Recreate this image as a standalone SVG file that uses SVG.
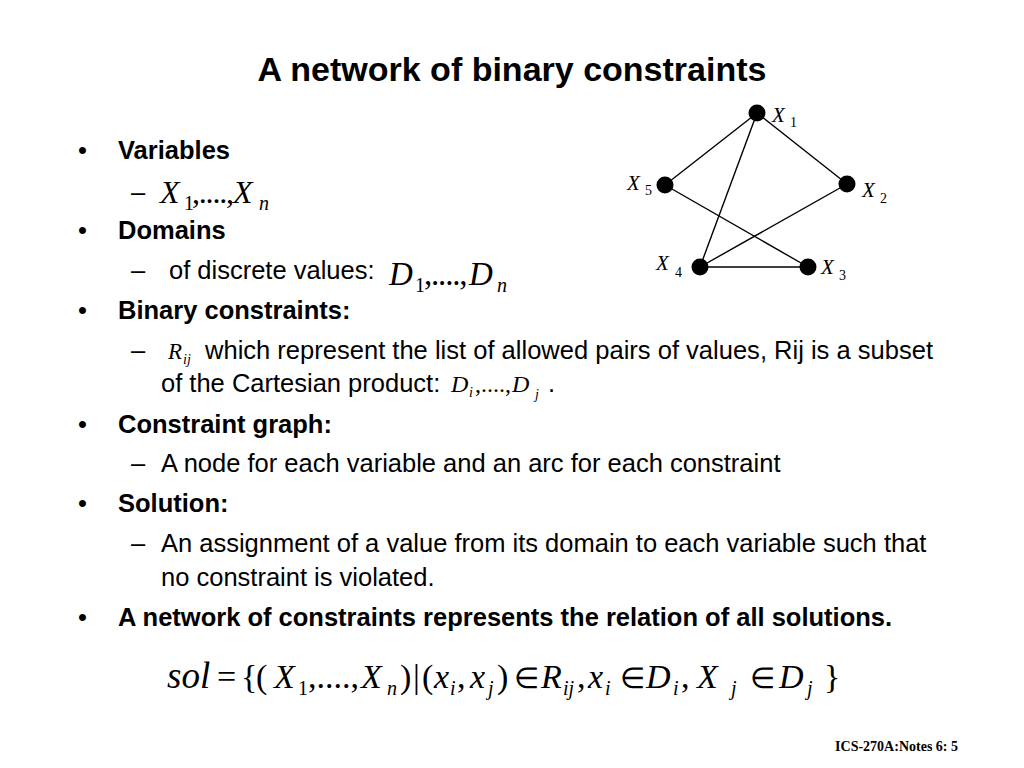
<svg xmlns="http://www.w3.org/2000/svg" width="1024" height="768" viewBox="0 0 1024 768">
<style>
.t{font-family:"Liberation Sans",Arial,sans-serif;font-size:25.5px;fill:#000}
.b{font-weight:bold}
.m{font-family:"Liberation Serif","Times New Roman",serif;fill:#000}
.i{font-style:italic}
.s{font-size:20px}
.p{letter-spacing:-1.2px}
.e{font-size:29px}
.node{fill:#000}
.edge{stroke:#000;stroke-width:1.4;fill:none}
.lbl{font-size:21px}
.lsub{font-size:14px}
</style>
<rect width="1024" height="768" fill="#fff"/>
<text x="512" y="81" text-anchor="middle" class="t b" style="font-size:34px">A network of binary constraints</text>

<g id="bullets" class="t">
<text x="78" y="159">•</text>
<text x="118" y="159" class="b">Variables</text>
<text x="131" y="201">–</text>
<text x="78" y="239">•</text>
<text x="118" y="239" class="b">Domains</text>
<text x="131" y="279">–</text>
<text x="169" y="279">of discrete values:</text>
<text x="78" y="319">•</text>
<text x="118" y="319" class="b">Binary constraints:</text>
<text x="131" y="359">–</text>
<text x="205" y="359" textLength="728" lengthAdjust="spacingAndGlyphs">which represent the list of allowed pairs of values, Rij is a subset</text>
<text x="161" y="392">of the Cartesian product:</text>
<text x="548" y="392">.</text>
<text x="78" y="433">•</text>
<text x="118" y="433" class="b">Constraint graph:</text>
<text x="131" y="472">–</text>
<text x="161" y="472">A node for each variable and an arc for each constraint</text>
<text x="78" y="512">•</text>
<text x="118" y="512" class="b">Solution:</text>
<text x="131" y="552">–</text>
<text x="161" y="552">An assignment of a value from its domain to each variable such that</text>
<text x="161" y="586">no constraint is violated.</text>
<text x="78" y="626">•</text>
<text x="118" y="626" class="b">A network of constraints represents the relation of all solutions.</text>
</g>

<g id="math" class="m">
<g style="font-size:32px">
<text x="160" y="203" class="i">X</text><text x="184" y="210" class="s">1</text><text x="192" y="203" class="p">,....,</text><text x="233" y="203" class="i">X</text><text x="259" y="210" class="s i">n</text>
</g>
<g style="font-size:33px">
<text x="389" y="285" class="i">D</text><text x="415" y="292" class="s">1</text><text x="424" y="285" class="p">,....,</text><text x="469" y="285" class="i">D</text><text x="497" y="292" class="s i">n</text>
</g>
<text x="168" y="359" class="i" style="font-size:23px">R</text><text x="183" y="364" class="i" style="font-size:14px">ij</text>
<g style="font-size:24px">
<text x="451" y="392" class="i">D</text><text x="469" y="397" class="i" style="font-size:14px">i</text><text x="475" y="392">,....,</text><text x="512" y="392" class="i">D</text><text x="535" y="399" class="i" style="font-size:14px">j</text>
</g>
<g style="font-size:34px">
<text x="167" y="688" class="i" style="font-size:37px">sol</text>
<text x="217" y="688">=</text>
<text x="241" y="688">{</text>
<text x="256" y="688">(</text>
<text x="274" y="688" class="i">X</text>
<text x="298" y="695" class="s">1</text>
<text x="308" y="688">,....,</text>
<text x="361" y="688" class="i">X</text>
<text x="387" y="695" class="s i">n</text>
<text x="400" y="688">)</text>
<text x="413" y="688">|</text>
<text x="422" y="688">(</text>
<text x="434" y="688" class="i">x</text>
<text x="450" y="695" class="s i">i</text>
<text x="457" y="688">,</text>
<text x="470" y="688" class="i">x</text>
<text x="488" y="695" class="s i">j</text>
<text x="497" y="688">)</text>
<text x="514" y="688" class="e">∈</text>
<text x="541" y="688" class="i">R</text>
<text x="563" y="695" class="s i">ij</text>
<text x="577" y="688">,</text>
<text x="588" y="688" class="i">x</text>
<text x="605" y="695" class="s i">i</text>
<text x="620" y="688" class="e">∈</text>
<text x="646" y="688" class="i">D</text>
<text x="673" y="695" class="s i">i</text>
<text x="681" y="688">,</text>
<text x="697" y="688" class="i">X</text>
<text x="731" y="695" class="s i">j</text>
<text x="750" y="688" class="e">∈</text>
<text x="779" y="688" class="i">D</text>
<text x="807" y="695" class="s i">j</text>
<text x="824" y="688">}</text>
</g>
<text x="958" y="751" text-anchor="end" class="b" style="font-size:14px">ICS-270A:Notes 6: 5</text>
</g>

<g id="connectors">
<line class="edge" x1="757" y1="113" x2="665" y2="185"/>
<line class="edge" x1="757" y1="113" x2="847" y2="184"/>
<line class="edge" x1="757" y1="113" x2="700" y2="267"/>
<line class="edge" x1="665" y1="185" x2="808" y2="267"/>
<line class="edge" x1="847" y1="184" x2="700" y2="267"/>
<line class="edge" x1="700" y1="267" x2="808" y2="267"/>
</g>

<g id="X1"><circle class="node" cx="757" cy="113" r="8.5"/><text class="m lbl i" x="772" y="122">X</text><text class="m lsub" x="790" y="127">1</text></g>
<g id="X2"><circle class="node" cx="847" cy="184" r="8.5"/><text class="m lbl i" x="862" y="197">X</text><text class="m lsub" x="880" y="203">2</text></g>
<g id="X3"><circle class="node" cx="808" cy="267" r="8.5"/><text class="m lbl i" x="821" y="274">X</text><text class="m lsub" x="839" y="280">3</text></g>
<g id="X4"><circle class="node" cx="700" cy="267" r="8.5"/><text class="m lbl i" x="656" y="270">X</text><text class="m lsub" x="675" y="277">4</text></g>
<g id="X5"><circle class="node" cx="665" cy="185" r="8.5"/><text class="m lbl i" x="627" y="190">X</text><text class="m lsub" x="645" y="195">5</text></g>
</svg>
